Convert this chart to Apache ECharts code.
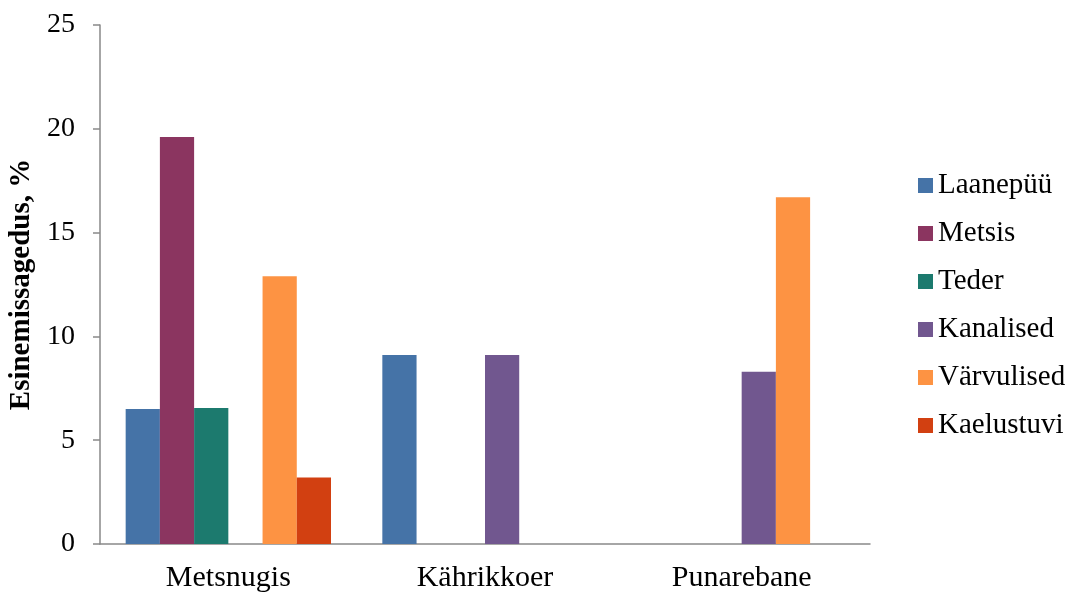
<!DOCTYPE html>
<html>
<head>
<meta charset="utf-8">
<script src="https://cdn.jsdelivr.net/npm/echarts@6/dist/echarts.min.js"></script>
<style>
  html, body { margin: 0; padding: 0; background: #fff; }
  #chart { width: 1066px; height: 593px; }
</style>
</head>
<body>
<div id="chart"></div>
<script>
// Predators and the share of each prey group found in their diet
const categories = ['Metsnugis', 'Kährikkoer', 'Punarebane'];
const seriesNames = ['Laanepüü', 'Metsis', 'Teder', 'Kanalised', 'Värvulised', 'Kaelustuvi'];
const laanepyy   = [6.5, 9.1, 0];
const metsis     = [19.6, 0, 0];
const teder      = [6.55, 0, 0];
const kanalised  = [0, 9.1, 8.3];
const varvulised = [12.9, 0, 16.7];
const kaelustuvi = [3.2, 0, 0];
const yTicks = [0, 5, 10, 15, 20, 25];

const values = [laanepyy, metsis, teder, kanalised, varvulised, kaelustuvi];
const colors = ['#4573a7', '#8b3560', '#1c7a6e', '#71578f', '#fd9343', '#d24011'];
const serif = '"Liberation Serif", "Times New Roman", serif';

const chart = echarts.init(document.getElementById('chart'), null, { renderer: 'canvas' });
chart.setOption({
  animation: false,
  textStyle: { fontFamily: serif },
  grid: { left: 100, right: 196, top: 25, bottom: 49, outerBoundsMode: 'none', containLabel: false },
  legend: {
    orient: 'vertical',
    left: 913,
    top: 166,
    itemWidth: 15,
    itemHeight: 15,
    itemGap: 19,
    icon: 'rect',
    textStyle: { fontFamily: serif, fontSize: 29, color: '#000' },
    data: seriesNames
  },
  xAxis: {
    type: 'category',
    data: categories,
    axisLine: { lineStyle: { color: '#898989', width: 1.5 } },
    axisTick: { show: false },
    axisLabel: { fontFamily: serif, fontSize: 30, color: '#000', margin: 19 }
  },
  yAxis: {
    type: 'value',
    min: yTicks[0],
    max: yTicks[yTicks.length - 1],
    interval: 5,
    name: 'Esinemissagedus, %',
    nameLocation: 'middle',
    nameGap: 53,
    nameRotate: 90,
    nameTextStyle: { fontFamily: serif, fontSize: 29, fontWeight: 'bold', color: '#000' },
    axisLine: { show: true, lineStyle: { color: '#898989', width: 1.5 } },
    axisTick: { show: true, length: 7, inside: false, lineStyle: { color: '#898989', width: 1.5 } },
    axisLabel: { fontFamily: serif, fontSize: 28, color: '#000', margin: 25 },
    splitLine: { show: false }
  },
  series: seriesNames.map((name, i) => ({
    name,
    type: 'bar',
    data: values[i],
    barGap: '0%',
    barCategoryGap: '20%',
    itemStyle: { color: colors[i] }
  }))
});
</script>
</body>
</html>
